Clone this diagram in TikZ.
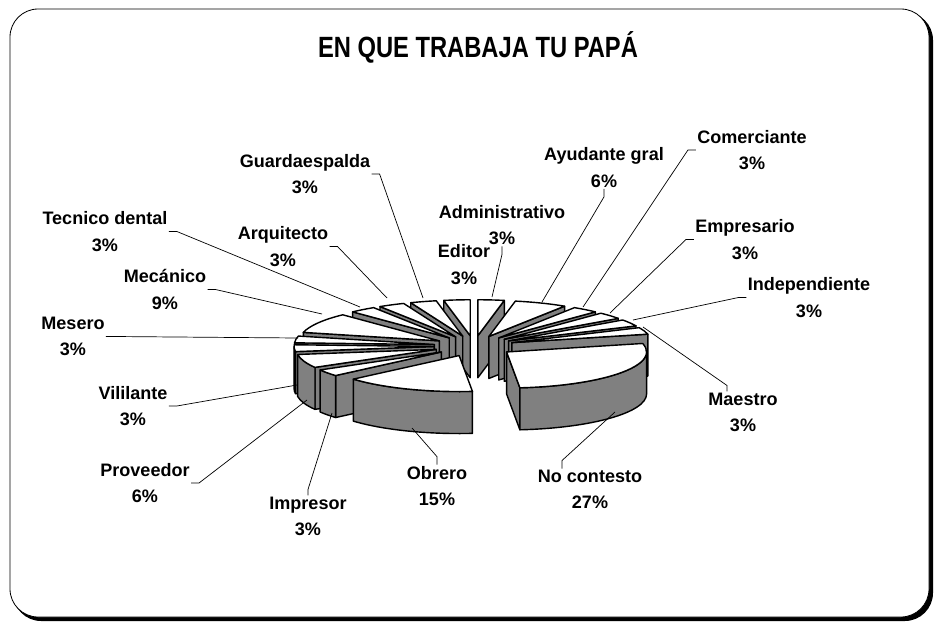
\documentclass[tikz,border=0pt]{standalone}
\usepackage{fontspec}
\setmainfont{Liberation Sans}
\newfontfamily\titlefont[FakeStretch=0.81]{Liberation Sans}
\usetikzlibrary{calc}

\newcommand{\lblfont}{\fontsize{15.4}{22.7}\selectfont\bfseries}
\newcommand{\pierx}{140}
\newcommand{\piery}{36}
\newcommand{\pieh}{42}
\newcommand{\pieoff}{40}
\newcommand{\pieratio}{0.2571}

\tikzset{
    piewall/.style = {draw, fill = gray, line width = 1.2pt, line join = round},
    pietop/.style = {draw, fill = white, line width = 1.2pt, line join = round},
    lbl/.style = {align = center, font = \lblfont, inner sep = 1pt},
    leader/.style = {line width = 0.6pt}
}

% one exploded slice, angles clockwise from the right
\newcommand{\pieslice}[2]{%
    \pgfmathsetmacro{\midang}{(#1+#2)/2}%
    \pgfmathtruncatemacro{\showa}{cos(#1)<-0.01}%
    \pgfmathtruncatemacro{\showb}{cos(#2)>0.01}%
    \pgfmathsetmacro{\wallfrom}{max(#1,0)}%
    \pgfmathsetmacro{\wallto}{min(#2,180)}%
    \pgfmathtruncatemacro{\showo}{\wallfrom<\wallto}%
    \begin{scope}[shift = {({\pieoff*cos(\midang)},{\pieoff*\pieratio*sin(\midang)})}]
        \ifnum\showa=1
            \draw[piewall] (0,0) -- ({\pierx*cos(#1)},{\piery*sin(#1)}) -- ++(0,\pieh) -- (0,\pieh) -- cycle;
        \fi
        \ifnum\showb=1
            \draw[piewall] (0,0) -- ({\pierx*cos(#2)},{\piery*sin(#2)}) -- ++(0,\pieh) -- (0,\pieh) -- cycle;
        \fi
        \ifnum\showo=1
            \draw[piewall] ({\pierx*cos(\wallfrom)},{\piery*sin(\wallfrom)})
                arc[start angle = \wallfrom, end angle = \wallto, x radius = \pierx, y radius = \piery]
                -- ++(0,\pieh)
                arc[start angle = \wallto, end angle = \wallfrom, x radius = \pierx, y radius = \piery] -- cycle;
        \fi
        \draw[pietop] (0,0) -- ({\pierx*cos(#1)},{\piery*sin(#1)})
            arc[start angle = #1, end angle = #2, x radius = \pierx, y radius = \piery] -- cycle;
    \end{scope}}

\begin{document}
\begin{tikzpicture}[x = 0.03cm, y = -0.03cm]
    \useasboundingbox (0,0) rectangle (935,621);
    % frame with shadow
    \fill[black, rounded corners = 24] (13,12) rectangle (933,621);
    \draw[fill = white, line width = 0.7pt, rounded corners = 24] (10,9) rectangle (929,617);

    \node (title) at (478,47) {\titlefont\fontsize{25}{29}\selectfont\bfseries EN QUE TRABAJA TU PAPÁ};

    % pie, drawn back to front
    \begin{scope}[shift = {(474,346)}]
        \pieslice{-90}{-79.09}      % Administrativo
        \pieslice{259.09}{270}      % Editor
        \pieslice{248.18}{259.09}   % Guardaespalda
        \pieslice{-79.09}{-57.27}   % Ayudante gral
        \pieslice{237.27}{248.18}   % Arquitecto
        \pieslice{-57.27}{-46.36}   % Comerciante
        \pieslice{226.36}{237.27}   % Tecnico dental
        \pieslice{-46.36}{-35.45}   % Empresario
        \pieslice{-35.45}{-24.55}   % Independiente
        \pieslice{193.64}{226.36}   % Mecanico
        \pieslice{-24.55}{-13.64}   % Maestro
        \pieslice{182.73}{193.64}   % Mesero
        \pieslice{171.82}{182.73}   % Vililante
        \pieslice{150}{171.82}      % Proveedor
        \pieslice{139.09}{150}      % Impresor
        \pieslice{-13.64}{84.55}    % No contesto
        \pieslice{84.55}{139.09}    % Obrero
    \end{scope}

    % labels
    \node[lbl] (gua) at (305,174) {Guardaespalda\\3\%};
    \node[lbl] (arq) at (283,246.5) {Arquitecto\\3\%};
    \node[lbl] (tec) at (105,231.5) {Tecnico dental\\3\%};
    \node[lbl] (mec) at (165,289.5) {Mecánico\\9\%};
    \node[lbl] (mes) at (73,336.5) {Mesero\\3\%};
    \node[lbl] (vil) at (133,406) {Vililante\\3\%};
    \node[lbl] (pro) at (145,483) {Proveedor\\6\%};
    \node[lbl] (imp) at (308,516.5) {Impresor\\3\%};
    \node[lbl] (obr) at (437,486) {Obrero\\15\%};
    \node[lbl] (noc) at (590,489.5) {No contesto\\27\%};
    \node[lbl] (mae) at (743,412.5) {Maestro\\3\%};
    \node[lbl] (ind) at (809,297.5) {Independiente\\3\%};
    \node[lbl] (emp) at (745,239.5) {Empresario\\3\%};
    \node[lbl] (com) at (752,150) {Comerciante\\3\%};
    \node[lbl] (ayu) at (604,167.5) {Ayudante gral\\6\%};
    \node[lbl] (adm) at (502,225) {Administrativo\\3\%};
    \node[lbl] (edi) at (464,264.5) {Editor\\3\%};

    % leader ends on the slices
    \coordinate (pGua) at (423,298);
    \coordinate (pArq) at (387,298);
    \coordinate (pTec) at (360,307);
    \coordinate (pMec) at (322,314);
    \coordinate (pMes) at (298,338);
    \coordinate (pVil) at (297,385);
    \coordinate (pPro) at (307,400);
    \coordinate (pImp) at (332,413);
    \coordinate (pObr) at (412,428);
    \coordinate (pNoc) at (615,412);
    \coordinate (pMae) at (643,327);
    \coordinate (pInd) at (633,320);
    \coordinate (pEmp) at (610,313);
    \coordinate (pCom) at (583,307);
    \coordinate (pAyu) at (542,302);
    \coordinate (pAdm) at (492,297);

    \draw[leader] (gua.east) -- ++(8,0) -- (pGua);
    \draw[leader] (arq.east) -- ++(8,0) -- (pArq);
    \draw[leader] (tec.east) -- ++(8,0) -- (pTec);
    \draw[leader] (mec.east) -- ++(8,0) -- (pMec);
    \draw[leader] (mes.east) -- ++(8,0) -- (pMes);
    \draw[leader] (vil.east) -- ++(8,0) -- (pVil);
    \draw[leader] (pro.east) -- ++(8,0) -- (pPro);
    \draw[leader] (imp.north) -- ++(0,-6) -- (pImp);
    \draw[leader] (obr.north) -- ++(0,-8) -- (pObr);
    \draw[leader] ($(noc.north)+(-28,0)$) -- ++(0,-8) -- (pNoc);
    \draw[leader] ($(mae.north)+(-16,0)$) -- ++(0,-6) -- (pMae);
    \draw[leader] (ind.west) -- ++(-8,0) -- (pInd);
    \draw[leader] (emp.west) -- ++(-8,0) -- (pEmp);
    \draw[leader] (com.west) -- ++(-8,0) -- (pCom);
    \draw[leader] (ayu.south) -- ++(0,8) -- (pAyu);
    \draw[leader] (adm.south) -- ++(0,8) -- (pAdm);
\end{tikzpicture}
\end{document}
